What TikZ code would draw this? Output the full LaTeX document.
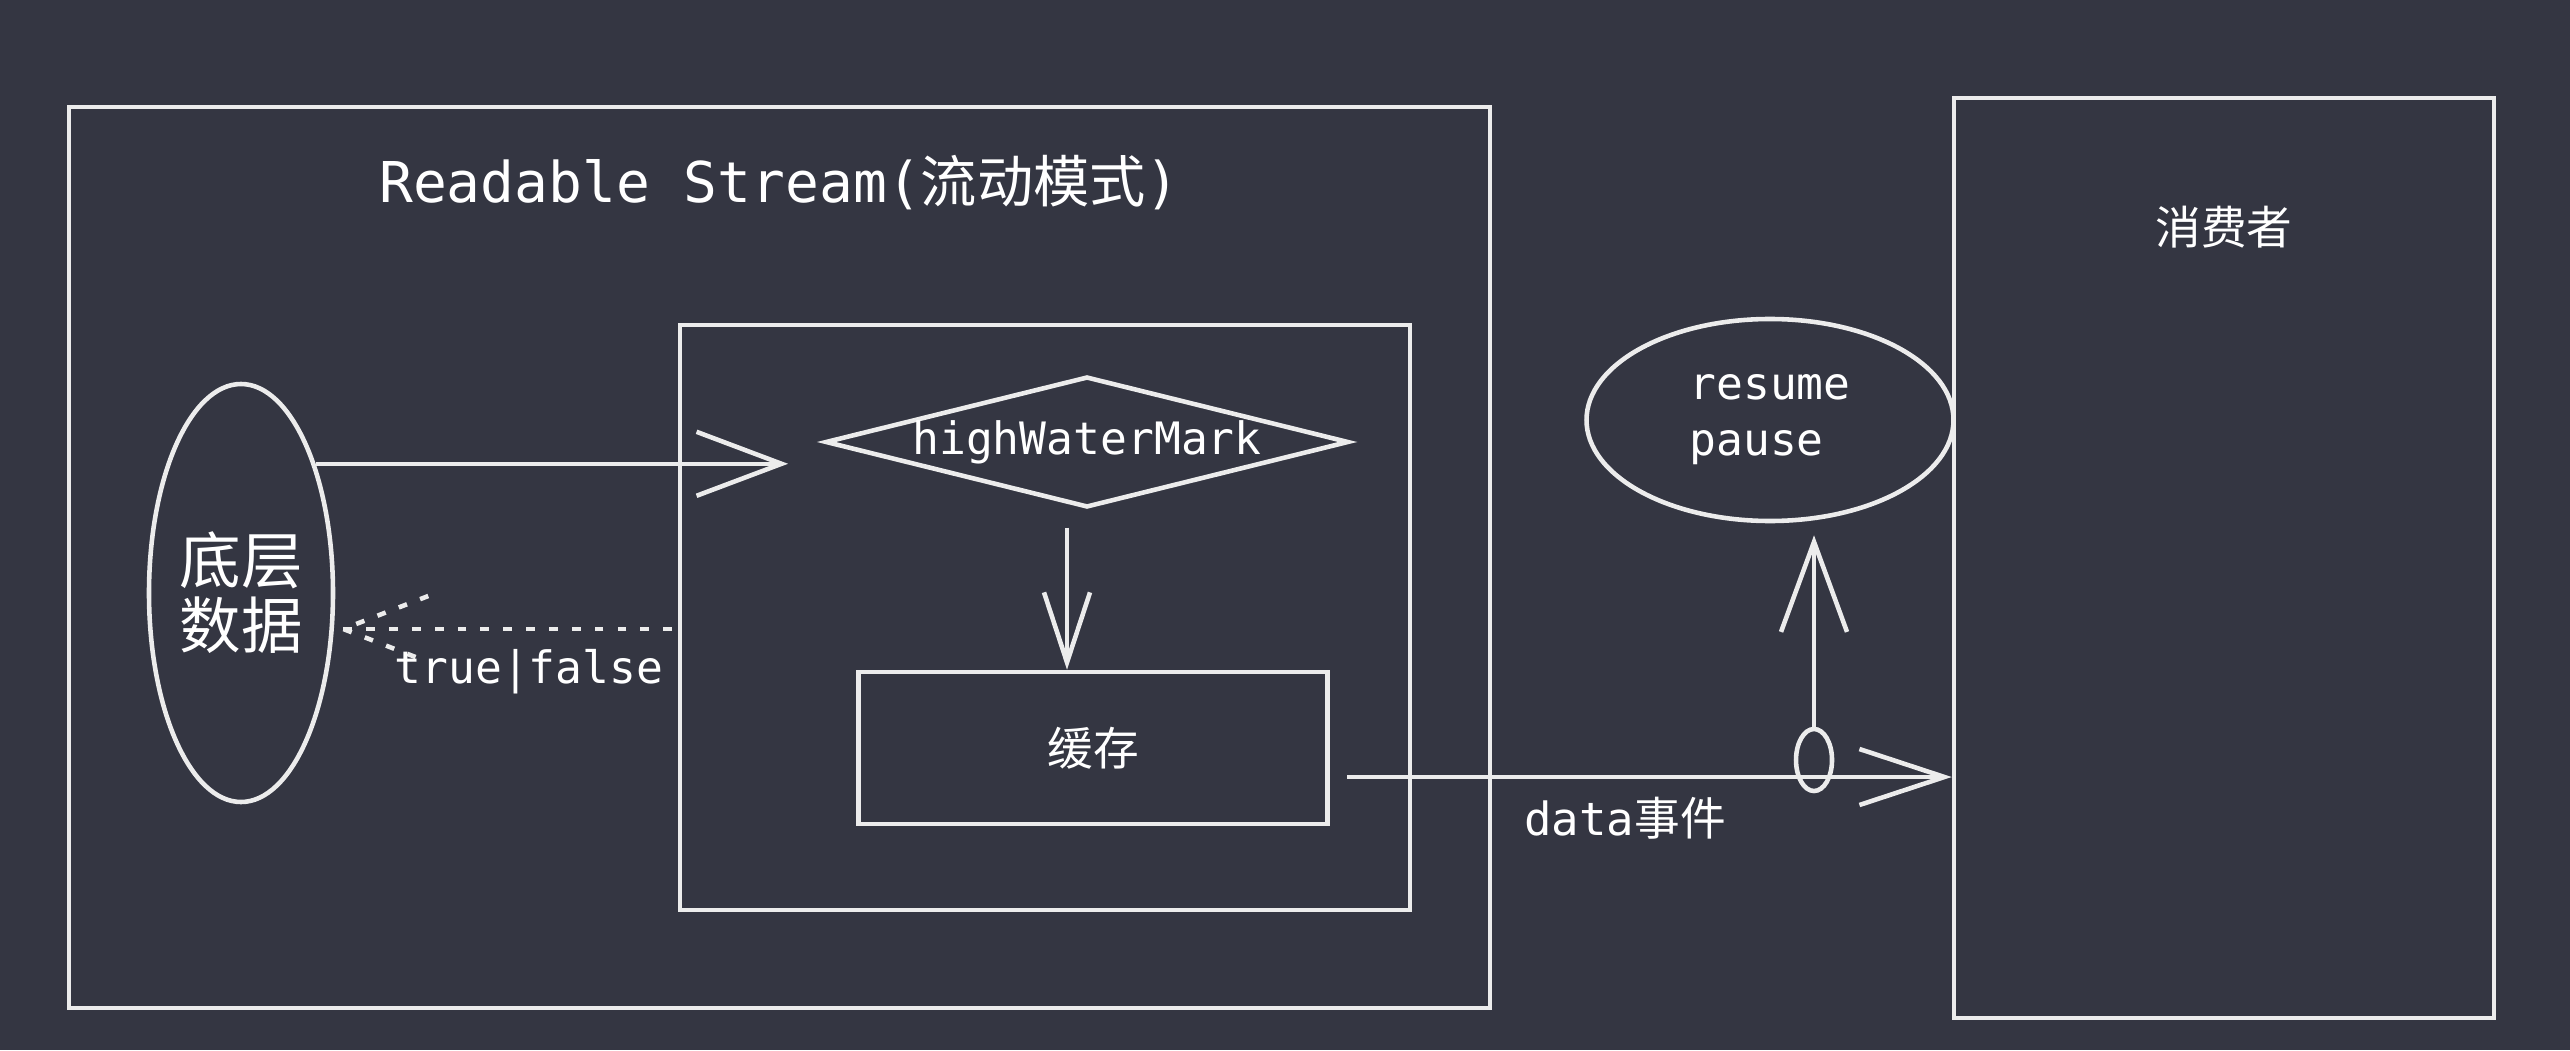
\documentclass[tikz,border=0pt]{standalone}
\usepackage{fontspec}
\setmonofont{DejaVu Sans Mono}
\newfontfamily\cjk{Noto Sans CJK SC}
\usetikzlibrary{positioning,calc,shapes.geometric,arrows.meta}
\definecolor{board}{RGB}{52,54,66}
\definecolor{chalk}{RGB}{236,236,236}

\begin{document}
\begin{tikzpicture}[
	every node/.style={text=white, inner sep=0pt},
	frame/.style={draw=chalk, line width=1.3pt},
	blob/.style={frame, ellipse},
	gate/.style={frame, diamond, aspect=4},
	flow/.style={draw=chalk, line width=1.3pt, -{Straight Barb[length=8.5mm, width=6.4mm]}},
	back/.style={draw=chalk, line width=1.3pt, dash pattern=on 2.5pt off 4pt},
	mono/.style={font=\ttfamily\fontsize{12.7}{16}\selectfont},
	han/.style={font=\cjk\fontsize{13}{16}\selectfont}
]
	\fill[board] (0,0) rectangle (25.7,10.5);

	% readable stream
	\node[frame, minimum width=14.21cm, minimum height=9.01cm] (stream) at (7.795,4.925) {};
	\node[below=5mm of stream.north, font=\ttfamily\fontsize{16}{19}\selectfont] (title) {Readable Stream({\cjk 流动模式})};
	\node[frame, minimum width=7.30cm, minimum height=5.85cm] (inner) at (10.45,4.325) {};
	\node[blob, minimum width=1.84cm, minimum height=4.18cm, align=center, font=\cjk\fontsize{17.5}{18.5}\selectfont] (src) at (2.41,4.57) {底层\\数据};
	\node[gate, mono] (hwm) at (10.87,6.08) {highWaterMark};
	\node[frame, minimum width=4.69cm, minimum height=1.52cm, han] (buf) at (10.93,3.02) {缓存};

	% consumer
	\node[frame, minimum width=5.40cm, minimum height=9.20cm] (sink) at (22.24,4.92) {};
	\node[below=11mm of sink.north, han] (who) {消费者};
	\node[blob, minimum width=3.67cm, minimum height=2.02cm, mono, align=left] (ctl) at (17.70,6.30) {resume\\pause};
	\node[blob, minimum width=3.6mm, minimum height=6.2mm] (tap) at (18.14,2.90) {};

	\draw[flow, shorten >=3.5mm] (src.60) -- (src.60 -| hwm.west);
	\draw[flow, -{Straight Barb[length=7mm, width=4.6mm]}, shorten <=1.8mm] ([xshift=-2mm]hwm.south) -- ([xshift=-2mm]hwm.south |- buf.north);

	\coordinate (ret) at (6.72,4.21);
	\draw[back] (ret) -- ([xshift=0.8mm]src.east |- ret) coordinate (rtip);
	\draw[back] ($(rtip)+(0.85,0.33)$) -- (rtip) -- ($(rtip)+(0.85,-0.33)$);
	\node[mono] (tf) at (5.29,3.78) {true|false};

	\coordinate (emit) at (13.47,2.73);
	\draw[flow, -{Straight Barb[length=8.5mm, width=5.6mm]}] (emit) -- (emit -| sink.west);
	\node[font=\ttfamily\fontsize{13}{16}\selectfont] (evt) at (16.25,2.32) {data{\cjk 事件}};
	\draw[flow, -{Straight Barb[length=9mm, width=6.6mm]}, shorten >=1.2mm] (tap.north) -- (tap.north |- ctl.south);
\end{tikzpicture}
\end{document}
